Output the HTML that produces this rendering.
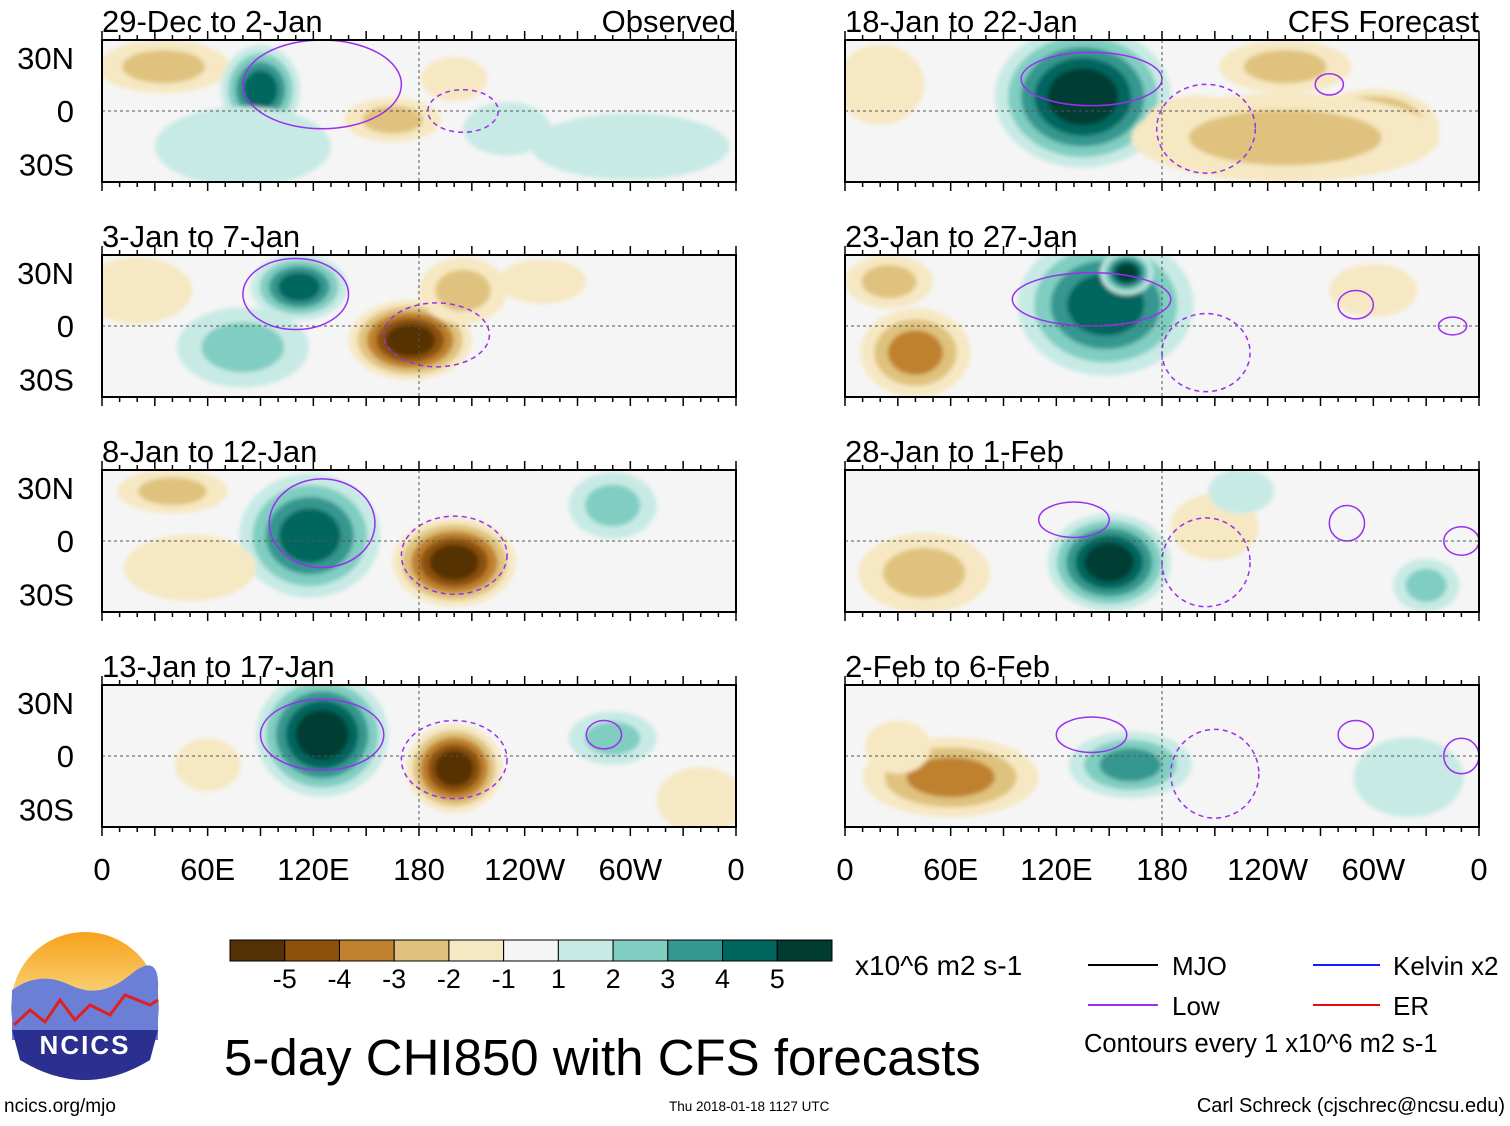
<!DOCTYPE html>
<html><head><meta charset="utf-8"><style>
body{margin:0;background:#fff;}
svg text{font-family:"Liberation Sans",sans-serif;}
</style></head><body>
<svg id="fig" width="1510" height="1121" xmlns="http://www.w3.org/2000/svg">
<defs>
<filter id="bl" x="-20%" y="-20%" width="140%" height="140%"><feGaussianBlur stdDeviation="2"/></filter>
<linearGradient id="sky" x1="0" y1="0" x2="0" y2="1"><stop offset="0" stop-color="#f7a21b"/><stop offset="0.45" stop-color="#f9d27a"/><stop offset="0.5" stop-color="#8aa0e0"/><stop offset="1" stop-color="#2b2f8f"/></linearGradient>
</defs>
<g id="panels"></g>
<g id="cbar"></g>
<text x="855" y="975" font-size="28">x10^6 m2 s-1</text>
<g font-size="26">
<line x1="1088" y1="965" x2="1158" y2="965" stroke="#000" stroke-width="2"/><text x="1172" y="975">MJO</text>
<line x1="1088" y1="1005" x2="1158" y2="1005" stroke="#9a2ff0" stroke-width="2"/><text x="1172" y="1015">Low</text>
<line x1="1313" y1="965" x2="1380" y2="965" stroke="#1a1aff" stroke-width="2"/><text x="1393" y="975">Kelvin x2</text>
<line x1="1313" y1="1005" x2="1380" y2="1005" stroke="#e01010" stroke-width="2"/><text x="1393" y="1015">ER</text>
<text x="1084" y="1052" font-size="25.5">Contours every 1 x10^6 m2 s-1</text>
</g>
<text x="224" y="1075" font-size="51">5-day CHI850 with CFS forecasts</text>
<text x="4" y="1112" font-size="19">ncics.org/mjo</text>
<text x="669" y="1111" font-size="13.5">Thu 2018-01-18 1127 UTC</text>
<text x="1505" y="1112" font-size="20" text-anchor="end">Carl Schreck (cjschrec@ncsu.edu)</text>
<g>
<circle cx="85" cy="1006" r="74" fill="url(#sky)"/>
<path d="M12 990 Q40 970 70 985 T130 975 T158 990 L158 1040 L12 1040Z" fill="#6c7fd6"/>
<path d="M14 1025 L30 1010 L45 1022 L60 1000 L75 1020 L90 1005 L110 1015 L125 995 L150 1005 L158 1000" fill="none" stroke="#e02020" stroke-width="3"/>
<path d="M12 1030 L158 1030 L150 1060 Q85 1100 20 1060Z" fill="#2b2f8f"/>
<text x="85" y="1054" font-size="26" font-weight="bold" fill="#fff" text-anchor="middle" letter-spacing="2">NCICS</text>
</g>
</svg>
<script>
const colors=["#543005","#8c510a","#bf812d","#dfc27d","#f6e8c3","#f5f5f5","#c7eae5","#80cdc1","#35978f","#01665e","#003c30"];
const cbarLabels=["-5","-4","-3","-2","-1","1","2","3","4","5"];
const titles=["29-Dec to 2-Jan","18-Jan to 22-Jan","3-Jan to 7-Jan","23-Jan to 27-Jan","8-Jan to 12-Jan","28-Jan to 1-Feb","13-Jan to 17-Jan","2-Feb to 6-Feb"];
const lonTicks=[0,60,120,180,240,300,360];
const lonLabels=["0","60E","120E","180","120W","60W","0"];
const latTicks=[30,0,-30];
const latLabels=["30N","0","30S"];
// blobs: [lon, lat, radiusLon, radiusLat, peak]
const blobs0=[[35,25,30,12,-2],[90,12,18,20,4],[80,-20,40,18,1],[165,-5,22,10,-2],[300,-20,45,15,1],[200,18,15,10,-1],[230,-10,20,12,1]];
const blobs1=[[135,8,40,32,5],[200,-10,25,15,-3],[300,-10,30,18,-4],[250,-15,70,20,-2],[250,25,30,12,-2],[20,15,20,18,-1]];
const blobs2=[[112,22,22,15,4],[175,-8,28,18,-5],[205,20,20,15,-2],[80,-12,30,18,2],[250,25,20,10,-1],[20,20,25,15,-1]];
const blobs3=[[148,12,40,32,4],[160,30,12,10,5],[40,-15,25,20,-3],[25,25,20,12,-2],[300,20,20,12,-1]];
const blobs4=[[118,3,32,28,4],[200,-12,28,20,-5],[290,20,20,15,2],[40,28,25,10,-2],[50,-15,30,15,-1]];
const blobs5=[[150,-12,28,22,5],[45,-18,30,18,-2],[210,8,20,15,-1],[330,-25,15,12,2],[225,28,15,10,1]];
const blobs6=[[125,12,30,28,5],[200,-7,22,20,-5],[290,10,20,12,2],[340,-25,20,15,-1],[60,-5,15,12,-1]];
const blobs7=[[60,-12,40,18,-3],[162,-5,28,15,3],[320,-12,25,18,1],[30,5,15,12,-1]];
const allBlobs=[blobs0,blobs1,blobs2,blobs3,blobs4,blobs5,blobs6,blobs7];
// contours: [lon, lat, rLon, rLat, dashed(1)/solid(0)]
const cont0=[[125,15,45,25,0],[205,0,20,12,1]];
const cont1=[[140,18,40,15,0],[205,-10,28,25,1],[275,15,8,6,0]];
const cont2=[[110,18,30,20,0],[190,-5,30,18,1]];
const cont3=[[140,15,45,15,0],[205,-15,25,22,1],[290,12,10,8,0],[345,0,8,5,0]];
const cont4=[[125,10,30,25,0],[200,-8,30,22,1]];
const cont5=[[130,12,20,10,0],[205,-12,25,25,1],[285,10,10,10,0],[350,0,10,8,0]];
const cont6=[[125,12,35,20,0],[200,-2,30,22,1],[285,12,10,8,0]];
const cont7=[[140,12,20,10,0],[210,-10,25,25,1],[290,12,10,8,0],[350,0,10,10,0]];
const allCont=[cont0,cont1,cont2,cont3,cont4,cont5,cont6,cont7];

const NS="http://www.w3.org/2000/svg";
function mk(t,a,p){const e=document.createElementNS(NS,t);for(const k in a)e.setAttribute(k,a[k]);p.appendChild(e);return e;}
const root=document.getElementById('panels');
const colX=[102,845], rowY=[40,255,470,685], PW=634, PH=142;
allBlobs.forEach((bl,i)=>{
  const x0=colX[i%2], y0=rowY[Math.floor(i/2)];
  const xs=lon=>x0+lon/360*PW;
  const ys=lat=>y0+PH/2-lat/40*(PH/2);
  const g=mk('g',{},root);
  
  
  const cp=mk('clipPath',{id:'cp'+i},g);
  mk('rect',{x:x0,y:y0,width:PW,height:PH},cp);
  mk('rect',{x:x0,y:y0,width:PW,height:PH,fill:'#f5f5f5'},g);
  const sh=mk('g',{'clip-path':'url(#cp'+i+')'},g);
  const f=mk('g',{filter:'url(#bl)'},sh);
  bl.forEach(b=>{
    const n=Math.abs(b[4]);
    for(let k=1;k<=n;k++){
      const s=1.25*(1-(k-1)/n*0.75);
      const ci=b[4]>0?5+k:5-k;
      const e=mk('ellipse',{cx:xs(b[0]),cy:ys(b[1]),rx:b[2]/360*PW*s,ry:b[3]/40*(PH/2)*s,fill:colors[ci]},f);
      
      
    }
  });
  allCont[i].forEach(c=>{
    const e=mk('ellipse',{cx:xs(c[0]),cy:ys(c[1]),rx:c[2]/360*PW,ry:c[3]/40*(PH/2),fill:'none',stroke:'#9a2ff0','stroke-width':1.5},sh);
    if(c[4])e.setAttribute('stroke-dasharray','5,4');
    
    
  });
  mk('line',{x1:x0,y1:ys(0),x2:x0+PW,y2:ys(0),stroke:'#555','stroke-dasharray':'3,3'},g);
  mk('line',{x1:xs(180),y1:y0,x2:xs(180),y2:y0+PH,stroke:'#555','stroke-dasharray':'3,3'},g);
  mk('rect',{x:x0,y:y0,width:PW,height:PH,fill:'none',stroke:'#000','stroke-width':2},g);
  for(let l=0;l<=360;l+=10){const L=l%30?5:9;
    mk('line',{x1:xs(l),y1:y0,x2:xs(l),y2:y0-L,stroke:'#000','stroke-width':1.5},g);
    mk('line',{x1:xs(l),y1:y0+PH,x2:xs(l),y2:y0+PH+L,stroke:'#000','stroke-width':1.5},g);}
  const t=mk('text',{x:x0,y:y0-8,'font-size':31},g);t.textContent=titles[i];
  
  if(i<2){const r=mk('text',{x:x0+PW,y:y0-8,'font-size':31,'text-anchor':'end'},g);r.textContent=i?'CFS Forecast':'Observed';
    }
  if(i%2===0){latTicks.forEach((lt,j)=>{const a=mk('text',{x:74,y:ys(lt)+11,'font-size':31,'text-anchor':'end'},g);a.textContent=latLabels[j];
    });}
  if(i>=6){lonTicks.forEach((ln,j)=>{const a=mk('text',{x:xs(ln),y:880,'font-size':31,'text-anchor':'middle'},g);a.textContent=lonLabels[j];
    });}
});
const cb=document.getElementById('cbar');


const cbx=230,cbw=602/11;
colors.forEach((c,j)=>{mk('rect',{x:cbx+j*cbw,y:940,width:cbw,height:21,fill:c,stroke:'#000','stroke-width':1},cb);});
cbarLabels.forEach((l,j)=>{const a=mk('text',{x:cbx+(j+1)*cbw,y:988,'font-size':27,'text-anchor':'middle'},cb);a.textContent=l;
  });
</script>
</body></html>
